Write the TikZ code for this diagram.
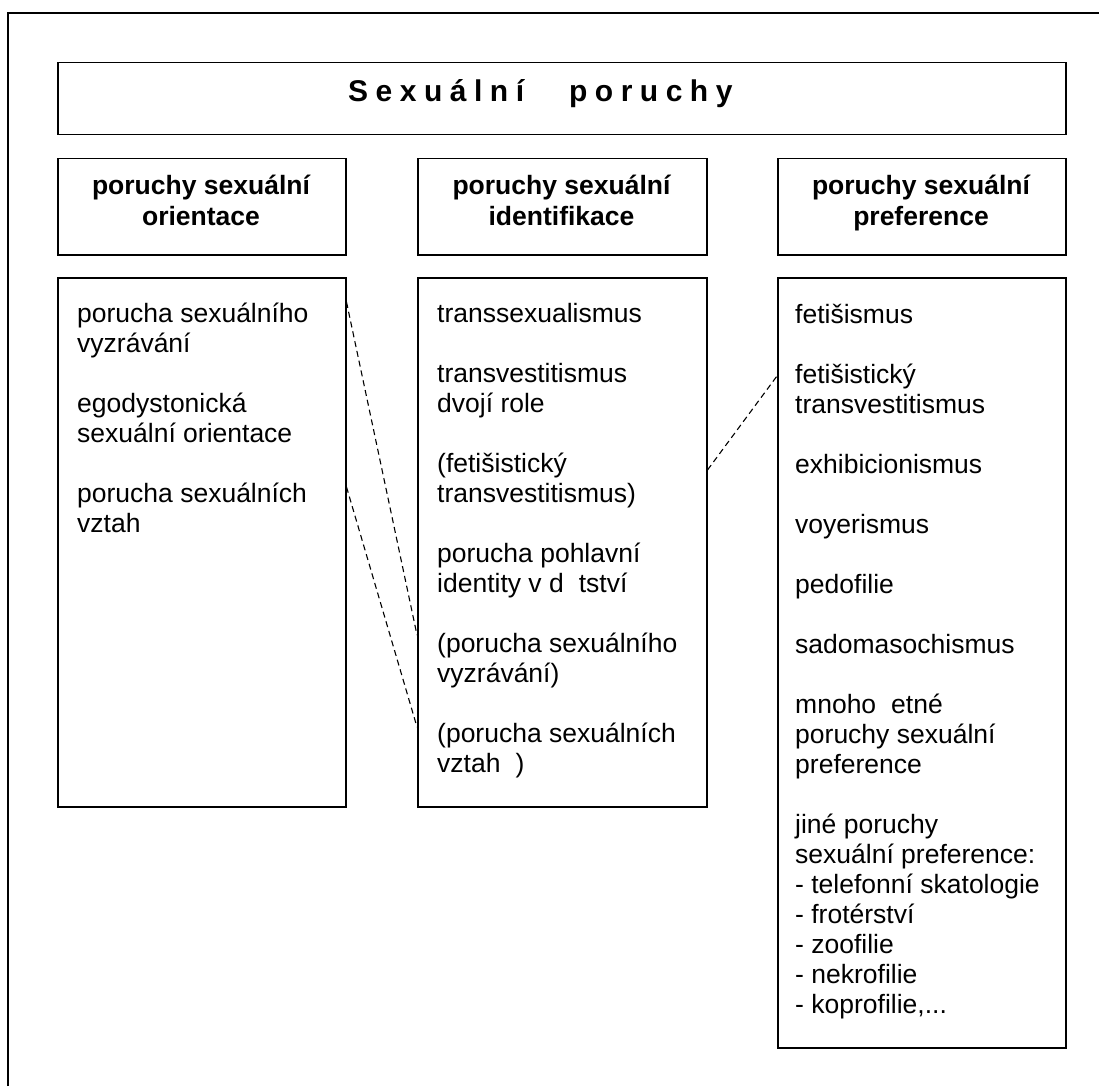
\documentclass[tikz,border=0pt]{standalone}
\usepackage{fontspec}
\setmainfont{Liberation Sans}
\usetikzlibrary{calc}
\tikzset{
  frame/.style={line width=1.1pt},
  boxnode/.style={draw, line width=1.5pt, rectangle, inner sep=0pt, anchor=north west},
  body/.style={anchor=base west, align=left, inner sep=0pt, font=\fontsize{26.5}{30}\selectfont},
  head/.style={anchor=base, align=center, inner sep=0pt, font=\fontsize{26.5}{31}\selectfont\bfseries},
  titletext/.style={anchor=base west, inner sep=0pt, font=\fontsize{30}{34}\selectfont\bfseries},
  link/.style={line width=1.1pt, dash pattern=on 6pt off 4pt}
}
\newcommand{\gp}{\hspace{7.5pt}}
\begin{document}
\begin{tikzpicture}[x=1pt,y=-1pt]
\useasboundingbox (0,0) rectangle (1099,1086);
% outer frame (only left and top edges visible)
\draw[frame] (8,1086) -- (8,13) -- (1099,13);

% boxes
\node[boxnode, minimum width=1008pt, minimum height=72pt] (title) at (57,62) {};
\node[boxnode, minimum width=288pt, minimum height=96pt] (lhead) at (57,158) {};
\node[boxnode, minimum width=289pt, minimum height=96pt] (mhead) at (417,158) {};
\node[boxnode, minimum width=288pt, minimum height=96pt] (rhead) at (777,158) {};
\node[boxnode, minimum width=288pt, minimum height=529pt] (lbox) at (57,277) {};
\node[boxnode, minimum width=289pt, minimum height=529pt] (mbox) at (417,277) {};
\node[boxnode, minimum width=288pt, minimum height=770pt] (rbox) at (777,277) {};

% title
\node[titletext] (titlelabel) at (348,102) {S\gp e\gp x\gp u\gp á\gp l\gp n\gp í\hspace{45pt}p\gp o\gp r\gp u\gp c\gp h\gp y};

% headers (base anchor = baseline of the last line)
\node[head] (lheadtext) at (201,225) {poruchy sexuální\\orientace};
\node[head] (mheadtext) at (561.5,225) {poruchy sexuální\\identifikace};
\node[head] (rheadtext) at (921,225) {poruchy sexuální\\preference};

% contents (base anchor = baseline of the last line)
\node[body] (ltext) at (77,532) {porucha sexuálního\\vyzrávání\\[30pt]egodystonická\\sexuální orientace\\[30pt]porucha sexuálních\\vztah};
\node[body] (mtext) at (437,772) {transsexualismus\\[30pt]transvestitismus\\dvojí role\\[30pt](fetišistický\\transvestitismus)\\[30pt]porucha pohlavní\\identity v d\hspace{15pt}tství\\[30pt](porucha sexuálního\\vyzrávání)\\[30pt](porucha sexuálních\\vztah\hspace{15pt})};
\node[body] (rtext) at (795,1013) {fetišismus\\[30pt]fetišistický\\transvestitismus\\[30pt]exhibicionismus\\[30pt]voyerismus\\[30pt]pedofilie\\[30pt]sadomasochismus\\[30pt]mnoho\hspace{15pt}etné\\poruchy sexuální\\preference\\[30pt]jiné poruchy\\sexuální preference:\\- telefonní skatologie\\- frotérství\\- zoofilie\\- nekrofilie\\- koprofilie,...};

% dashed links
\coordinate (a1) at ($(lbox.north east)+(0,25)$);
\coordinate (b1) at ($(mbox.north west)+(0,358)$);
\coordinate (a2) at ($(lbox.north east)+(0,210)$);
\coordinate (b2) at ($(mbox.north west)+(0,450)$);
\coordinate (c1) at ($(mbox.north east)+(0,193)$);
\coordinate (d1) at ($(rbox.north west)+(0,99)$);
\draw[link] (a1) -- (b1);
\draw[link] (a2) -- (b2);
\draw[link] (c1) -- (d1);
\end{tikzpicture}
\end{document}
